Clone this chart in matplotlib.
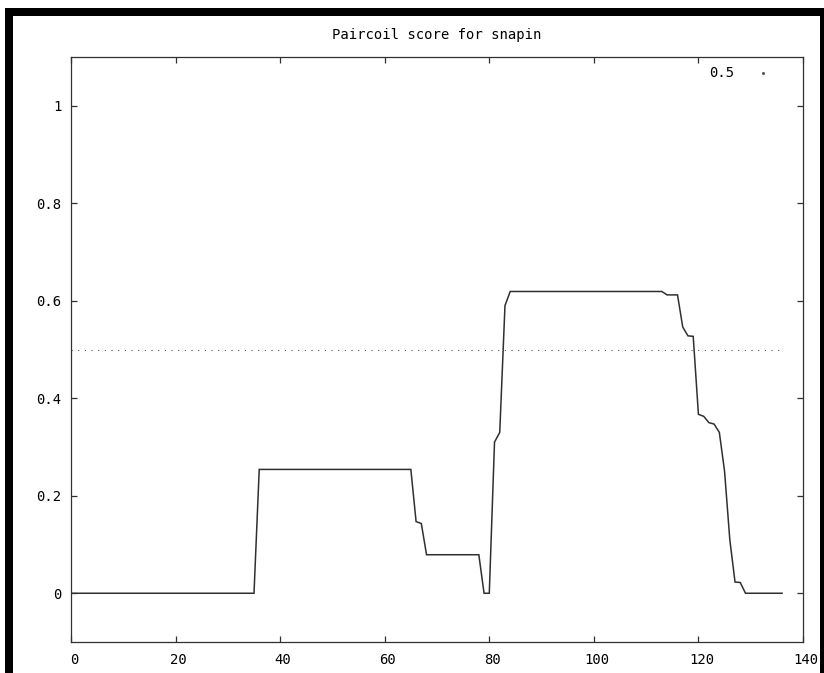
import matplotlib
matplotlib.use("Agg")
import matplotlib.pyplot as plt
import matplotlib.transforms as mtransforms
from matplotlib.patches import Rectangle

# ---- data ----
positions = list(range(0, 137))
scores = [
    0, 0, 0, 0, 0, 0, 0, 0, 0, 0,
    0, 0, 0, 0, 0, 0, 0, 0, 0, 0,
    0, 0, 0, 0, 0, 0, 0, 0, 0, 0,
    0, 0, 0, 0, 0, 0,
    0.254, 0.254, 0.254, 0.254, 0.254, 0.254, 0.254, 0.254, 0.254, 0.254,
    0.254, 0.254, 0.254, 0.254, 0.254, 0.254, 0.254, 0.254, 0.254, 0.254,
    0.254, 0.254, 0.254, 0.254, 0.254, 0.254, 0.254, 0.254, 0.254, 0.254,
    0.147, 0.143,
    0.079, 0.079, 0.079, 0.079, 0.079, 0.079, 0.079, 0.079, 0.079, 0.079, 0.079,
    0, 0,
    0.31, 0.33, 0.59,
    0.619, 0.619, 0.619, 0.619, 0.619, 0.619, 0.619, 0.619, 0.619, 0.619,
    0.619, 0.619, 0.619, 0.619, 0.619, 0.619, 0.619, 0.619, 0.619, 0.619,
    0.619, 0.619, 0.619, 0.619, 0.619, 0.619, 0.619, 0.619, 0.619, 0.619,
    0.612, 0.612, 0.612,
    0.546, 0.528, 0.527,
    0.367, 0.363, 0.35, 0.347, 0.33,
    0.25, 0.11, 0.023, 0.022,
    0, 0, 0, 0, 0, 0, 0, 0,
]
threshold = 0.5
threshold_label = "0.5"
title_text = "Paircoil score for snapin"
x_ticks = [0, 20, 40, 60, 80, 100, 120, 140]
x_ticklabels = ["0", "20", "40", "60", "80", "100", "120", "140"]
y_ticks = [0, 0.2, 0.4, 0.6, 0.8, 1.0]
y_ticklabels = ["0", "0.2", "0.4", "0.6", "0.8", "1"]

# ---- figure ----
W, H = 824, 673
plt.rcParams["lines.scale_dashes"] = False
fig = plt.figure(figsize=(W / 100, H / 100), dpi=100)
fig.patch.set_facecolor("white")

FONT = "DejaVu Sans Mono"
FS = 10.0
INK = "#303030"

def frect(x0, y0, x1, y1):
    # pixel coords, origin top-left
    fig.patches.append(Rectangle((x0 / W, 1 - y1 / H), (x1 - x0) / W, (y1 - y0) / H,
                                 transform=fig.transFigure, facecolor="black",
                                 edgecolor="none", zorder=0))

frect(5, 8, W, 16)      # top bar
frect(5, 8, 13, H)      # left bar
frect(820, 8, W, H)     # right bar

left, right, top, bottom = 71, 803, 57, 642
ax = fig.add_axes([left / W, 1 - bottom / H, (right - left) / W, (bottom - top) / H])
ax.set_facecolor("none")

ax.plot(positions, scores, color=INK, lw=1.1, solid_joinstyle="miter")
ax.plot(positions, [threshold] * len(positions), color="#505050", lw=0.8,
        linestyle=(0, (0.8, 4.0)))

ax.set_xlim(0, 140)
ax.set_ylim(-0.1, 1.1)
ax.set_xticks(x_ticks)
ax.set_xticklabels(x_ticklabels, fontfamily=FONT, fontsize=FS)
ax.set_yticks(y_ticks)
ax.set_yticklabels(y_ticklabels, fontfamily=FONT, fontsize=FS)
ax.tick_params(direction="in", length=4.5, width=0.9, color=INK,
               top=True, right=True, labelcolor="black")
ax.tick_params(axis="x", pad=8)
ax.tick_params(axis="y", pad=7)
shift = mtransforms.ScaledTranslation(3 / 100, 0, fig.dpi_scale_trans)
for lab in ax.get_xticklabels():
    lab.set_transform(lab.get_transform() + shift)
for s in ax.spines.values():
    s.set_color(INK)
    s.set_linewidth(0.9)

# key entry
ax.text((734 - left) / (right - left), (bottom - 73) / (bottom - top), threshold_label,
        transform=ax.transAxes, ha="right", va="center",
        fontfamily=FONT, fontsize=FS, color="black")
ax.plot([(763 - left) / (right - left)], [(bottom - 73) / (bottom - top)],
        transform=ax.transAxes, marker="s", ms=1.0, color="#505050", linestyle="none")

fig.text(437 / W, 1 - 35 / H, title_text, ha="center", va="center",
         fontfamily=FONT, fontsize=FS, color="black")

fig.savefig("out.png", dpi=100, facecolor="white")
